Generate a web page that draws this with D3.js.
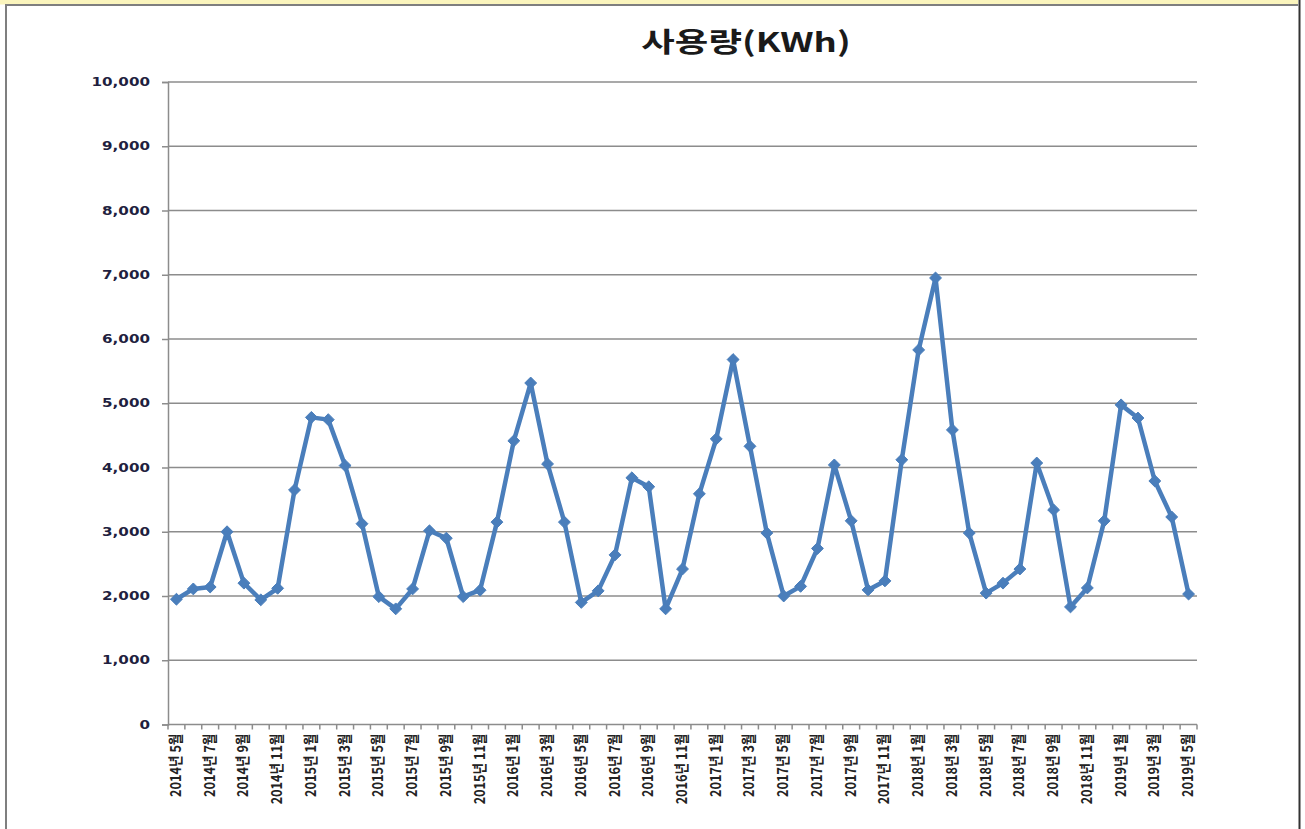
<!DOCTYPE html>
<html><head><meta charset="utf-8">
<script src="https://cdn.jsdelivr.net/npm/d3@7"></script>
<style>body{margin:0;background:#fff;overflow:hidden}svg{display:block}</style>
</head><body>
<svg id="c" width="1305" height="829"></svg>
<script>
const months = [];
(function(){ let y=2014,m=5; for(let i=0;i<61;i++){ months.push(y+"년 "+m+"월"); m++; if(m>12){m=1;y++;} } })();
const usage = [
 1950,2110,2140,3000,2200,1940,2120,3650,
 4780,4745,4030,3125,1990,1800,2110,3015,2900,1990,2090,3150,
 4415,5315,4055,3150,1900,2080,2640,3840,3700,1800,2420,3590,
 4445,5680,4330,2980,2000,2150,2740,4040,3170,2095,2235,4120,
 5830,6950,4585,2980,2045,2200,2420,4070,3340,1830,2125,3170,
 4975,4770,3790,3230,2030
];
const yTicks = [0,1000,2000,3000,4000,5000,6000,7000,8000,9000,10000];
const title = "사용량(KWh)";

const svg = d3.select("#c");
// frame
svg.append("rect").attr("x",0).attr("y",0).attr("width",1298).attr("height",4.5).attr("fill","#fbf5bd");
svg.append("line").attr("x1",5).attr("x2",1298).attr("y1",5).attr("y2",5).attr("stroke","#7f7f7f").attr("stroke-width",2);
svg.append("line").attr("x1",6).attr("x2",6).attr("y1",5).attr("y2",829).attr("stroke","#7f7f7f").attr("stroke-width",2);
svg.append("line").attr("x1",1299.5).attr("x2",1299.5).attr("y1",0).attr("y2",829).attr("stroke","#333").attr("stroke-width",2);

const L=168,R=1197,T=82,B=724.5;
const x = d3.scaleBand().domain(months).range([L,R]);
const y = d3.scaleLinear().domain([0,10000]).range([B,T]);

// gridlines
svg.append("g").selectAll("line").data(yTicks.slice(1)).join("line")
  .attr("x1",L).attr("x2",R).attr("y1",d=>y(d)).attr("y2",d=>y(d))
  .attr("stroke","#8c8c8c").attr("stroke-width",1.5);

// y axis
const ya = svg.append("g").attr("transform",`translate(${L},0)`)
  .call(d3.axisLeft(y).tickValues(yTicks).tickFormat(d3.format(",")).tickSize(6));
ya.select(".domain").attr("stroke","#8c8c8c").attr("stroke-width",1.5);
ya.selectAll(".tick line").attr("stroke","#8c8c8c").attr("stroke-width",1.5);
ya.selectAll("text").attr("font-family","DejaVu Sans").attr("font-weight","bold").attr("font-size",11.5)
  .attr("fill","#1f1f40").attr("text-anchor","end")
  .attr("x",-18/1.32).attr("transform","scale(1.32,1)");

// x axis
const xa = svg.append("g").attr("transform",`translate(0,${B})`);
xa.append("line").attr("x1",L).attr("x2",R).attr("y1",0).attr("y2",0).attr("stroke","#8c8c8c").attr("stroke-width",1.5);
const edges = months.map(m=>x(m)).concat([R]);
xa.selectAll("line.tk").data(edges).join("line").attr("class","tk")
  .attr("x1",d=>d).attr("x2",d=>d).attr("y1",0).attr("y2",5).attr("stroke","#8c8c8c").attr("stroke-width",1.5);
xa.selectAll("text").data(months.filter((m,i)=>i%2===0)).join("text")
  .attr("transform",d=>`translate(${x(d)+x.bandwidth()/2+4.5},9) rotate(-90) scale(1.1,1.3)`)
  .attr("text-anchor","end")
  .attr("font-family","Noto Sans CJK KR").attr("font-weight","bold").attr("font-size",11.5)
  .attr("fill","#222").text(d=>d);

// line
const cx = d=>x(d)+x.bandwidth()/2;
svg.append("path").datum(usage)
  .attr("d",d3.line().x((d,i)=>cx(months[i])).y(d=>y(d)))
  .attr("fill","none").attr("stroke","#4a7ebb").attr("stroke-width",4.5).attr("stroke-linejoin","round");
svg.append("g").selectAll("path").data(usage).join("path")
  .attr("d",d3.symbol(d3.symbolDiamond2,90))
  .attr("transform",(d,i)=>`translate(${cx(months[i])},${y(d)})`)
  .attr("fill","#4a7ebb").attr("stroke","#4a7ebb").attr("stroke-width",1);

// title
svg.append("text").attr("transform","translate(746,52) scale(1.35,1)").attr("text-anchor","middle")
  .attr("font-family","Noto Sans CJK KR").attr("font-weight","bold").attr("font-size",27)
  .attr("fill","#1a1a1a").text(title);
</script>
</body></html>
